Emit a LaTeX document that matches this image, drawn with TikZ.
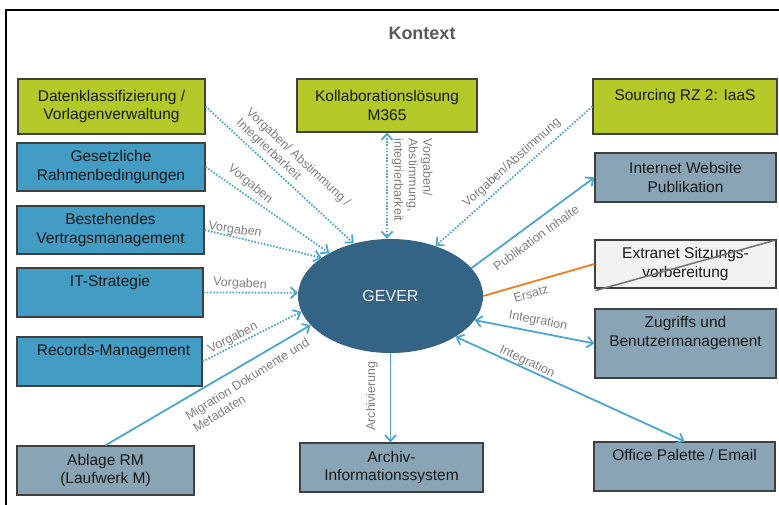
\documentclass[tikz,border=0pt]{standalone}
\usepackage{fontspec}
\setmainfont{Liberation Sans}
\usetikzlibrary{arrows.meta,shapes.geometric}
\definecolor{cgreen}{RGB}{180,200,40}
\definecolor{cblue}{RGB}{66,156,196}
\definecolor{cgrey}{RGB}{136,164,181}
\definecolor{cgever}{RGB}{51,100,133}
\definecolor{cline}{RGB}{75,167,208}
\definecolor{corange}{RGB}{240,125,35}
\definecolor{clabel}{RGB}{128,128,128}
\definecolor{ctitle}{RGB}{89,89,89}
\definecolor{cborder}{RGB}{64,64,64}
\definecolor{cext}{RGB}{242,242,242}
\begin{document}
\begin{tikzpicture}[x=1pt,y=-1pt,
  box/.style={draw=cborder, line width=1.3pt, inner sep=0pt, align=center,
    font=\fontsize{15.5}{18.6}\selectfont, text=black!90},
  lbl/.style={text=clabel, font=\fontsize{12.5}{14.5}\selectfont, inner sep=0pt},
  dotcon/.style={cline, line width=1.8pt, dash pattern=on 1.6pt off 1.6pt},
  solcon/.style={cline, line width=1.8pt},
  endtip/.style={-{Straight Barb[length=6pt,width=11pt]}},
  bothtip/.style={{Straight Barb[length=6pt,width=11pt]}-{Straight Barb[length=6pt,width=11pt]}}]
\useasboundingbox (0,0) rectangle (779,505);
\fill[white] (0,0) rectangle (779,505);
% frame
\draw[line width=1.6pt, black] (6,505) -- (6,10) -- (779,10);
\node[font=\fontsize{18}{22}\selectfont\bfseries, text=ctitle] (title) at (422,33) {Kontext};

% boxes
\node[box, fill=cgreen, minimum width=187pt, minimum height=55pt] (dat) at (111.5,106.5) {Datenklassifizierung /\\Vorlagenverwaltung};
\node[box, fill=cblue, minimum width=188pt, minimum height=48pt] (ges) at (111,167) {Gesetzliche\\Rahmenbedingungen};
\node[box, fill=cblue, minimum width=187pt, minimum height=48pt] (bes) at (110.5,230) {Bestehendes\\Vertragsmanagement};
\node[box, fill=cblue, minimum width=186pt, minimum height=49pt] (its) at (110,292.5) {IT-Strategie\\\strut};
\node[box, fill=cblue, minimum width=185pt, minimum height=49pt] (rec) at (109.5,361.5) {\hspace*{8pt}Records-Management\\\strut};
\node[box, fill=cgrey, minimum width=177pt, minimum height=49pt] (abl) at (105.5,470.5) {Ablage RM\\(Laufwerk M)};
\node[box, fill=cgreen, minimum width=180pt, minimum height=53pt] (kol) at (387,105.5) {Kollaborationslösung\\M365};
\node[box, fill=cgreen, minimum width=184pt, minimum height=55pt] (src) at (685,106.5) {Sourcing RZ 2: IaaS\\\strut};
\node[box, fill=cgrey, minimum width=181pt, minimum height=49pt] (inw) at (685.5,177.5) {Internet Website\\Publikation};
\node[box, fill=cext, minimum width=181pt, minimum height=48pt] (ext) at (685.5,264) {Extranet Sitzungs-\\vorbereitung};
\node[box, fill=cgrey, minimum width=181pt, minimum height=69pt] (zug) at (685.5,343.5) {Zugriffs und\\Benutzermanagement\\\strut};
\node[box, fill=cgrey, minimum width=181pt, minimum height=49pt] (off) at (684.5,466.5) {Office Palette / Email\\\strut};
\node[box, fill=cgrey, minimum width=183pt, minimum height=49pt] (arc) at (391.5,467.5) {Archiv-\\Informationssystem};
\draw[black!55, line width=1.5pt] ([xshift=1pt,yshift=-2pt]ext.south west) -- ([xshift=-2pt,yshift=-1pt]ext.north east);

% center
\node[ellipse, fill=cgever, minimum width=185pt, minimum height=114pt, inner sep=0pt,
  text=white!88!gray, font=\fontsize{16}{19}\selectfont] (gever) at (390.5,296) {GEVER};

% connectors
\draw[dotcon, endtip] (dat.east) -- (gever.125.3);
\draw[dotcon, endtip] (ges.east) -- (gever.145);
\draw[dotcon, endtip] (bes.east) -- (gever.151);
\draw[dotcon, endtip] (its.east) -- (gever.178);
\draw[dotcon, endtip] (rec.east) -- (gever.190);
\draw[solcon, endtip] (abl.north) -- (gever.200);
\draw[dotcon, bothtip] (kol.south) -- (kol.south |- gever.north);
\draw[dotcon, endtip] (src.west) -- (gever.48);
\draw[solcon, endtip] (gever.19) -- (inw.west);
\draw[corange, line width=1.8pt] (gever.east) -- (ext.west);
\draw[solcon, bothtip] (gever.344) -- (zug.west);
\draw[solcon, bothtip] (gever.328) -- (off.north);
\draw[solcon, endtip] (gever.south) -- (gever.south |- arc.north);

% labels
\node[lbl, align=left, rotate=-43] (l1) at (293,163) {Vorgaben/ Abstimmung /\\Integrierbarkeit};
\node[lbl, rotate=-40] (l2) at (250,184) {Vorgaben};
\node[lbl, rotate=-8] (l3) at (235,230) {Vorgaben};
\node[lbl, rotate=-3] (l4) at (240,284) {Vorgaben};
\node[lbl, rotate=27] (l5) at (233,338) {Vorgaben};
\node[lbl, align=left, rotate=32] (l6) at (251,385) {Migration Dokumente und\\Metadaten};
\node[lbl, align=left, rotate=-90] (l7) at (412,180) {Vorgaben/\\Abstimmung,\\integrierbarkeit};
\node[lbl, rotate=42] (l8) at (512,163) {Vorgaben/Abstimmung};
\node[lbl, rotate=36] (l9) at (536,238) {Publikation Inhalte};
\node[lbl, rotate=16] (l10) at (531,294) {Ersatz};
\node[lbl, rotate=-11] (l11) at (538,321) {Integration};
\node[lbl, rotate=-25] (l12) at (527,362) {Integration};
\node[lbl, rotate=90] (l13) at (372,396) {Archivierung};
\end{tikzpicture}
\end{document}
